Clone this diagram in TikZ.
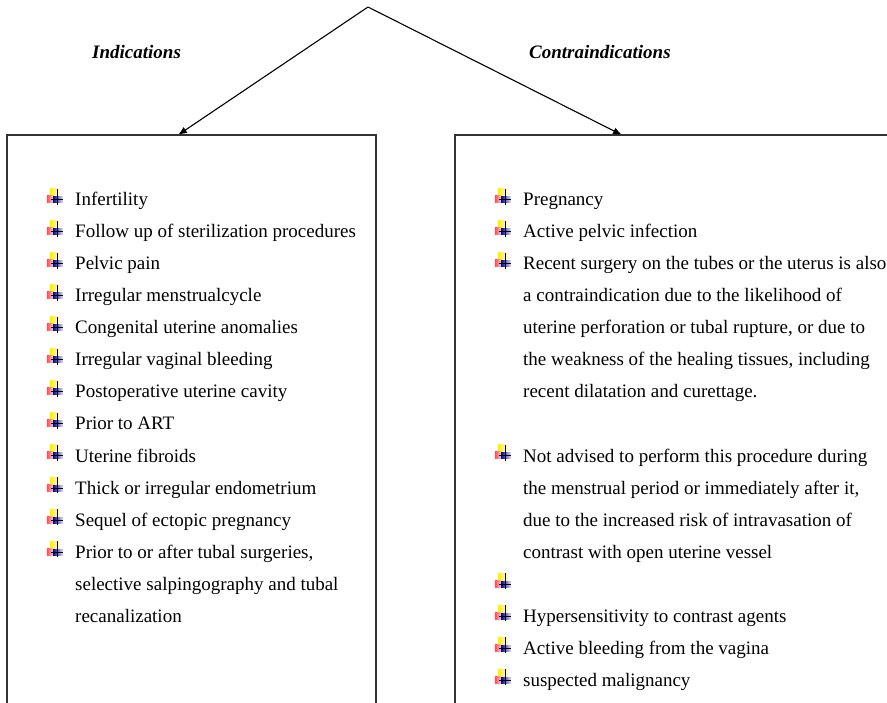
\documentclass[tikz,border=0pt]{standalone}
\usepackage{fontspec}
\setmainfont{Liberation Serif}
\usepackage{tikz}
\usetikzlibrary{positioning,arrows.meta}
\tikzset{
  heading/.style={anchor=base west, inner sep=0pt, font=\fontsize{19}{32}\selectfont\bfseries\itshape},
  entry/.style={anchor=base west, inner sep=0pt, align=left, font=\fontsize{19}{32}\selectfont},
  fwd/.style={-{Latex[length=9pt,width=7pt]}, line width=1.1pt},
  boxline/.style={draw=black!80, line width=1.2pt},
  flagmark/.pic={
    \shade[left color=yellow!85!orange, right color=yellow!10] (3,-17) rectangle (13,-9);
    \shade[left color=red!70, right color=red!15] (0,-10) rectangle (7,-3);
    \shade[left color=blue!60!black, right color=blue!10] (6,-9) rectangle (16,-3);
    \draw[line width=1pt] (10,-17) -- (10,-1);
    \draw[line width=1pt] (4,-6) -- (16,-6);
  },
}

\begin{document}
\begin{tikzpicture}[x=1pt, y=-1pt]
  \useasboundingbox (0,0) rectangle (887,703);

  % headings and arrows
  \coordinate (top) at (368,7);
  \coordinate (indtop) at (178,135);
  \coordinate (contop) at (622,135);
  \node[heading] (indlabel) at (92,59) {Indications};
  \node[heading] (conlabel) at (529,59) {Contraindications};
  \draw[fwd] (top) -- (indtop);
  \draw[fwd] (top) -- (contop);

  % boxes, open at the bottom
  \draw[boxline] (7,703) -- (7,135) -- (376,135) -- (376,703);
  \draw[boxline] (455,703) -- (455,135) -- (887,135);

  % indications (multi-line entries sit on their last line)
  \pic at (47,206) {flagmark};
  \node[entry] (ind1) at (75,206) {Infertility};
  \pic at (47,238) {flagmark};
  \node[entry] (ind2) at (75,238) {Follow up of sterilization procedures};
  \pic at (47,270) {flagmark};
  \node[entry] (ind3) at (75,270) {Pelvic pain};
  \pic at (47,302) {flagmark};
  \node[entry] (ind4) at (75,302) {Irregular menstrualcycle};
  \pic at (47,334) {flagmark};
  \node[entry] (ind5) at (75,334) {Congenital uterine anomalies};
  \pic at (47,366) {flagmark};
  \node[entry] (ind6) at (75,366) {Irregular vaginal bleeding};
  \pic at (47,398) {flagmark};
  \node[entry] (ind7) at (75,398) {Postoperative uterine cavity};
  \pic at (47,430) {flagmark};
  \node[entry] (ind8) at (75,430) {Prior to ART};
  \pic at (47,462) {flagmark};
  \node[entry] (ind9) at (75,462) {Uterine fibroids};
  \pic at (47,494) {flagmark};
  \node[entry] (ind10) at (75,494) {Thick or irregular endometrium};
  \pic at (47,526) {flagmark};
  \node[entry] (ind11) at (75,526) {Sequel of ectopic pregnancy};
  \pic at (47,558) {flagmark};
  \node[entry] (ind12) at (75,622) {Prior to or after tubal surgeries,\\
    selective salpingography and tubal\\ recanalization};

  % contraindications
  \pic at (495,206) {flagmark};
  \node[entry] (con1) at (523,206) {Pregnancy};
  \pic at (495,238) {flagmark};
  \node[entry] (con2) at (523,238) {Active pelvic infection};
  \pic at (495,270) {flagmark};
  \node[entry] (con3) at (523,398) {Recent surgery on the tubes or the uterus is also\\
    a contraindication due to the likelihood of\\
    uterine perforation or tubal rupture, or due to\\
    the weakness of the healing tissues, including\\
    recent dilatation and curettage.};
  \pic at (495,462) {flagmark};
  \node[entry] (con4) at (523,558) {Not advised to perform this procedure during\\
    the menstrual period or immediately after it,\\
    due to the increased risk of intravasation of\\
    contrast with open uterine vessel};
  \pic at (495,590) {flagmark};
  \pic at (495,622) {flagmark};
  \node[entry] (con5) at (523,622) {Hypersensitivity to contrast agents};
  \pic at (495,654) {flagmark};
  \node[entry] (con6) at (523,654) {Active bleeding from the vagina};
  \pic at (495,686) {flagmark};
  \node[entry] (con7) at (523,686) {suspected malignancy};
\end{tikzpicture}
\end{document}
